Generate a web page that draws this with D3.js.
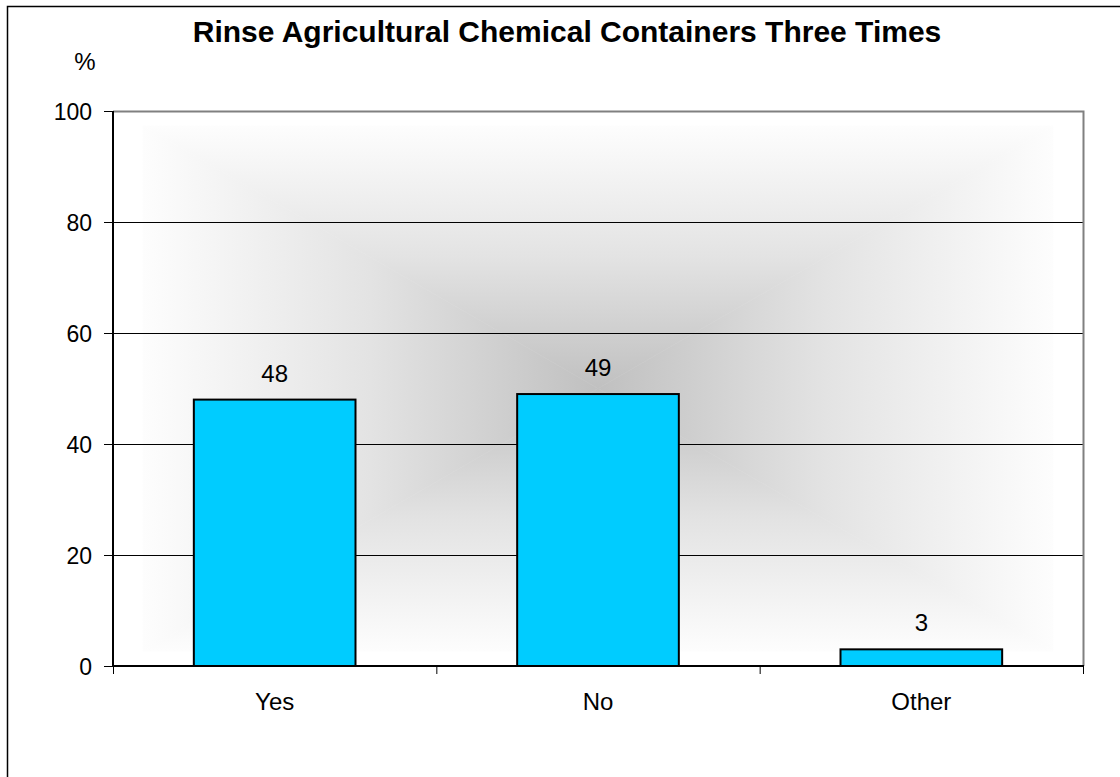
<!DOCTYPE html>
<html><head><meta charset="utf-8">
<script src="https://cdn.jsdelivr.net/npm/d3@7"></script>
<style>html,body{margin:0;padding:0;background:#fff;overflow:hidden}</style>
</head><body>
<svg id="c" width="1120" height="777"></svg>
<script>
const categories = ["Yes", "No", "Other"];
const values = [48, 49, 3];
const yTicks = [0, 20, 40, 60, 80, 100];
const title = "Rinse Agricultural Chemical Containers Three Times";
const yUnit = "%";

const svg = d3.select("#c");
const font = "Arial, 'Liberation Sans', sans-serif";
const L = 113, R = 1083, T = 111, B = 666;

// outer chart border (cut off at right/bottom)
svg.append("rect").attr("x", 7.5).attr("y", 6.5).attr("width", 1130).attr("height", 790)
  .attr("fill", "#fff").attr("stroke", "#000").attr("stroke-width", 1.5);

const x = d3.scaleBand().domain(categories).range([L, R]).paddingInner(0.5).paddingOuter(0.25);
const xb = d3.scaleBand().domain(categories).range([L, R]);
const y = d3.scaleLinear().domain([0, 100]).range([B, T]);

// plot background: white + rectangular "from center" gradient
svg.append("rect").attr("x", L).attr("y", T).attr("width", R - L).attr("height", B - T).attr("fill", "#fff");
const gx0 = L + 30, gx1 = R - 30, gy0 = T + 15, gy1 = B - 15;
const cx = (gx0 + gx1) / 2, cy = (gy0 + gy1) / 2;
const defs = svg.append("defs");
const center = "#c0c0c0";
const tris = [
  {id: "gT", pts: [[gx0, gy0], [gx1, gy0], [cx, cy]], g: [cx, gy0, cx, cy]},
  {id: "gB", pts: [[gx0, gy1], [gx1, gy1], [cx, cy]], g: [cx, gy1, cx, cy]},
  {id: "gL", pts: [[gx0, gy0], [gx0, gy1], [cx, cy]], g: [gx0, cy, cx, cy]},
  {id: "gR", pts: [[gx1, gy0], [gx1, gy1], [cx, cy]], g: [gx1, cy, cx, cy]}
];
tris.forEach(t => {
  const lg = defs.append("linearGradient").attr("id", t.id).attr("gradientUnits", "userSpaceOnUse")
    .attr("x1", t.g[0]).attr("y1", t.g[1]).attr("x2", t.g[2]).attr("y2", t.g[3]);
  lg.append("stop").attr("offset", 0).attr("stop-color", "#fdfdfd");
  lg.append("stop").attr("offset", 0.5).attr("stop-color", "#e3e3e3");
  lg.append("stop").attr("offset", 1).attr("stop-color", center);
  svg.append("path").attr("d", d3.line()(t.pts) + "Z").attr("fill", `url(#${t.id})`)
    .attr("stroke", `url(#${t.id})`).attr("stroke-width", 0.6);
});

// gridlines
svg.append("g").selectAll("line").data(yTicks.filter(d => d > 0 && d < 100)).join("line")
  .attr("x1", L).attr("x2", R).attr("y1", d => Math.round(y(d)) + 0.5).attr("y2", d => Math.round(y(d)) + 0.5)
  .attr("stroke", "#000").attr("stroke-width", 1);

// plot border top/right
svg.append("path").attr("d", `M${L},${T + 0.5}H${R + 0.5}V${B}`).attr("fill", "none")
  .attr("stroke", "#808080").attr("stroke-width", 2);

// bars
svg.append("g").selectAll("rect").data(values).join("rect")
  .attr("x", (d, i) => x(categories[i])).attr("width", x.bandwidth())
  .attr("y", d => y(d)).attr("height", d => y(0) - y(d))
  .attr("fill", "#00ccff").attr("stroke", "#000").attr("stroke-width", 2);

// data labels
svg.append("g").selectAll("text").data(values).join("text")
  .attr("x", (d, i) => x(categories[i]) + x.bandwidth() / 2).attr("y", d => y(d) - 18)
  .attr("text-anchor", "middle").attr("font-family", font).attr("font-size", 24).attr("fill", "#000")
  .text(d => d);

// y axis
const ya = d3.axisLeft(y).tickValues(yTicks).tickSize(9).tickPadding(12);
const gy = svg.append("g").attr("transform", `translate(${L},0)`).call(ya);
gy.select(".domain").attr("stroke", "#000").attr("stroke-width", 2).attr("d", `M0,${T}V${B}`);
gy.selectAll(".tick line").attr("stroke", "#000").attr("stroke-width", 1);
gy.selectAll("text").attr("font-family", font).attr("font-size", 23).attr("fill", "#000").attr("dy", "0.35em");

// x axis
const gxA = svg.append("g").attr("transform", `translate(0,${B})`);
gxA.append("line").attr("x1", L).attr("x2", R + 1).attr("y1", 0).attr("y2", 0).attr("stroke", "#000").attr("stroke-width", 2);
const bounds = categories.map(c => xb(c)).concat([R]);
gxA.selectAll("line.t").data(bounds).join("line").attr("class", "t")
  .attr("x1", d => d + 0.5).attr("x2", d => d + 0.5).attr("y1", 0).attr("y2", 8).attr("stroke", "#000");
gxA.selectAll("text").data(categories).join("text")
  .attr("x", c => x(c) + x.bandwidth() / 2).attr("y", 44)
  .attr("text-anchor", "middle").attr("font-family", font).attr("font-size", 24).attr("fill", "#000")
  .text(c => c);

// title and unit
svg.append("text").attr("x", 567).attr("y", 42).attr("text-anchor", "middle")
  .attr("font-family", font).attr("font-size", 30).attr("font-weight", "bold").attr("fill", "#000").text(title);
svg.append("text").attr("x", 85).attr("y", 70).attr("text-anchor", "middle")
  .attr("font-family", font).attr("font-size", 24).attr("fill", "#000").text(yUnit);
</script>
</body></html>
